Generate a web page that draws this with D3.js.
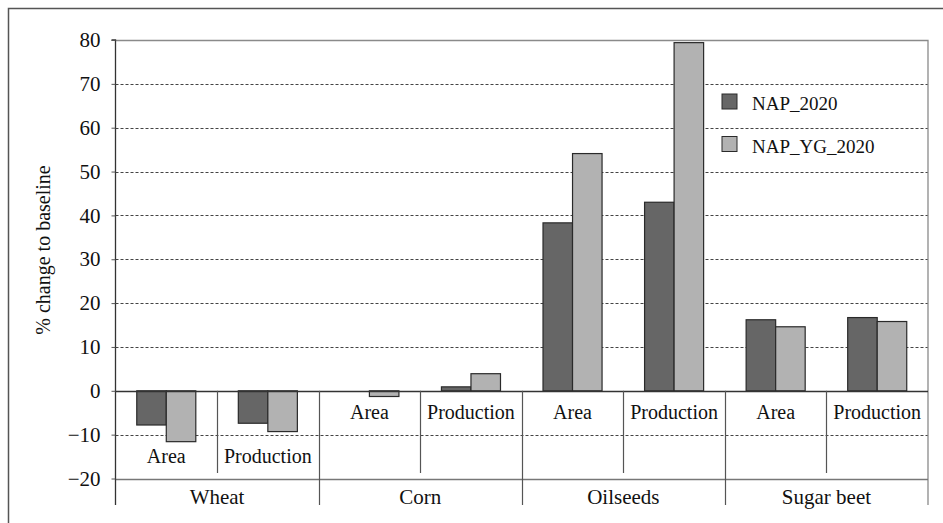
<!DOCTYPE html>
<html>
<head>
<meta charset="utf-8">
<script src="https://cdn.jsdelivr.net/npm/d3@7"></script>
<style>
  html, body { margin: 0; padding: 0; background: #fff; }
</style>
</head>
<body>
<svg id="chart" width="943" height="523" font-family="Liberation Serif"></svg>
<script>
// ---- data ----
const groups = ["Wheat", "Corn", "Oilseeds", "Sugar beet"];
const measures = ["Area", "Production"];
const seriesNames = ["NAP_2020", "NAP_YG_2020"];
const nap2020   = [-7.8, -7.4, 0.0, 0.9, 38.3, 43.0, 16.2, 16.7];
const napYG2020 = [-11.6, -9.3, -1.3, 3.9, 54.1, 79.4, 14.6, 15.8];
const yTicks = [-20, -10, 0, 10, 20, 30, 40, 50, 60, 70, 80];
const yTitle = "% change to baseline";

// ---- layout ----
const svg = d3.select("#chart");
const FONT = "Liberation Serif";
const L = 115.5, R = 928, T = 40, B = 478.5;
const colors = ["#666666", "#b2b2b2"];

const rows = [];
groups.forEach((g, gi) => measures.forEach((m, mi) => {
  const i = gi * measures.length + mi;
  rows.push({ key: g + "|" + m, group: g, measure: m, gi, mi, values: [nap2020[i], napYG2020[i]] });
}));

const y = d3.scaleLinear().domain([-20, 80]).range([B, T]);
const xg = d3.scaleBand().domain(groups).range([L, R]).padding(0);
const xs = d3.scaleBand().domain(rows.map(d => d.key)).range([L, R]).padding(0);
const x1 = d3.scaleBand().domain(seriesNames).range([0, xs.bandwidth()]).paddingInner(0).paddingOuter(0.72);

// outer frame
svg.append("path").attr("d", "M8.5,530 V8.5 H950")
  .attr("fill", "none").attr("stroke", "#555").attr("stroke-width", 1.5);

// gridlines (dashed)
svg.append("g").selectAll("line").data(yTicks.filter(t => t !== -20 && t !== 0 && t !== 80))
  .join("line")
  .attr("x1", L).attr("x2", R)
  .attr("y1", d => Math.round(y(d)) + 0.5).attr("y2", d => Math.round(y(d)) + 0.5)
  .attr("stroke", "#444").attr("stroke-width", 1).attr("stroke-dasharray", "3,2");

// top and right border (gray)
svg.append("path").attr("d", `M${L},${Math.round(y(80)) + 0.5} H${R} V505`)
  .attr("fill", "none").attr("stroke", "#8a8a8a").attr("stroke-width", 1.3);

// bottom axis line at -20
svg.append("line").attr("x1", L).attr("x2", R)
  .attr("y1", Math.round(y(-20)) + 0.5).attr("y2", Math.round(y(-20)) + 0.5)
  .attr("stroke", "#777").attr("stroke-width", 1.3);

// bars
const barG = svg.append("g").selectAll("g").data(rows).join("g")
  .attr("transform", d => `translate(${xs(d.key)},0)`);
barG.selectAll("rect").data(d => d.values.map((v, si) => ({ v, s: seriesNames[si], si })))
  .join("rect")
  .attr("x", d => x1(d.s))
  .attr("width", x1.bandwidth())
  .attr("y", d => y(Math.max(0, d.v)))
  .attr("height", d => Math.abs(y(d.v) - y(0)))
  .attr("fill", d => colors[d.si])
  .attr("stroke", "#2a2a2a").attr("stroke-width", 1.2)
  .style("display", d => d.v === 0 ? "none" : null);

// zero line
svg.append("line").attr("x1", L).attr("x2", R)
  .attr("y1", Math.round(y(0)) + 0.5).attr("y2", Math.round(y(0)) + 0.5)
  .attr("stroke", "#333").attr("stroke-width", 1.3);

// separators: within-group (short) and between groups (long)
rows.forEach((d, i) => {
  if (i === 0) return;
  const xx = Math.round(xs(d.key)) + 0.5;
  const long = d.mi === 0;
  svg.append("line").attr("x1", xx).attr("x2", xx)
    .attr("y1", y(0)).attr("y2", long ? 505 : 473)
    .attr("stroke", "#555").attr("stroke-width", 1.2);
});

// y axis
const yAxis = d3.axisLeft(y).tickValues(yTicks).tickSize(4).tickPadding(11)
  .tickFormat(d => d < 0 ? "\u2212" + Math.abs(d) : String(d));
const ya = svg.append("g").attr("transform", `translate(${L},0)`).call(yAxis)
  .attr("font-family", FONT).attr("font-size", 21);
ya.select(".domain").attr("d", `M-4,${y(80)}H0V505`).attr("stroke", "#333").attr("stroke-width", 1.3);
ya.selectAll(".tick line").attr("stroke", "#555");
ya.selectAll(".tick text").attr("font-family", FONT).attr("font-size", 21).attr("fill", "#111");

// y title
svg.append("text")
  .attr("transform", `translate(50,250) rotate(-90)`)
  .attr("text-anchor", "middle")
  .attr("font-family", FONT)
  .attr("font-size", 20).attr("fill", "#111")
  .text(yTitle);

// sub-category labels
const groupMin = {};
rows.forEach(d => { groupMin[d.group] = Math.min(groupMin[d.group] ?? 0, ...d.values); });
svg.append("g").selectAll("text").data(rows).join("text")
  .attr("x", d => xs(d.key) + xs.bandwidth() / 2)
  .attr("y", d => Math.max(y(0) + 28, y(groupMin[d.group]) + 21))
  .attr("text-anchor", "middle")
  .attr("font-family", FONT)
  .attr("font-size", 20).attr("fill", "#111")
  .text(d => d.measure);

// group labels
svg.append("g").selectAll("text").data(groups).join("text")
  .attr("x", d => xg(d) + xg.bandwidth() / 2)
  .attr("y", 504)
  .attr("text-anchor", "middle")
  .attr("font-family", FONT)
  .attr("font-size", 21).attr("fill", "#111")
  .text(d => d);

// legend
const lg = svg.append("g").selectAll("g").data(seriesNames).join("g")
  .attr("transform", (d, i) => `translate(722,${94 + i * 42.5})`);
lg.append("rect").attr("width", 15).attr("height", 15)
  .attr("fill", (d, i) => colors[i]).attr("stroke", "#2a2a2a").attr("stroke-width", 1);
lg.append("text").attr("x", 30).attr("y", 16)
  .attr("font-family", FONT)
  .attr("font-size", 19).attr("fill", "#111")
  .text(d => d);
</script>
</body>
</html>
